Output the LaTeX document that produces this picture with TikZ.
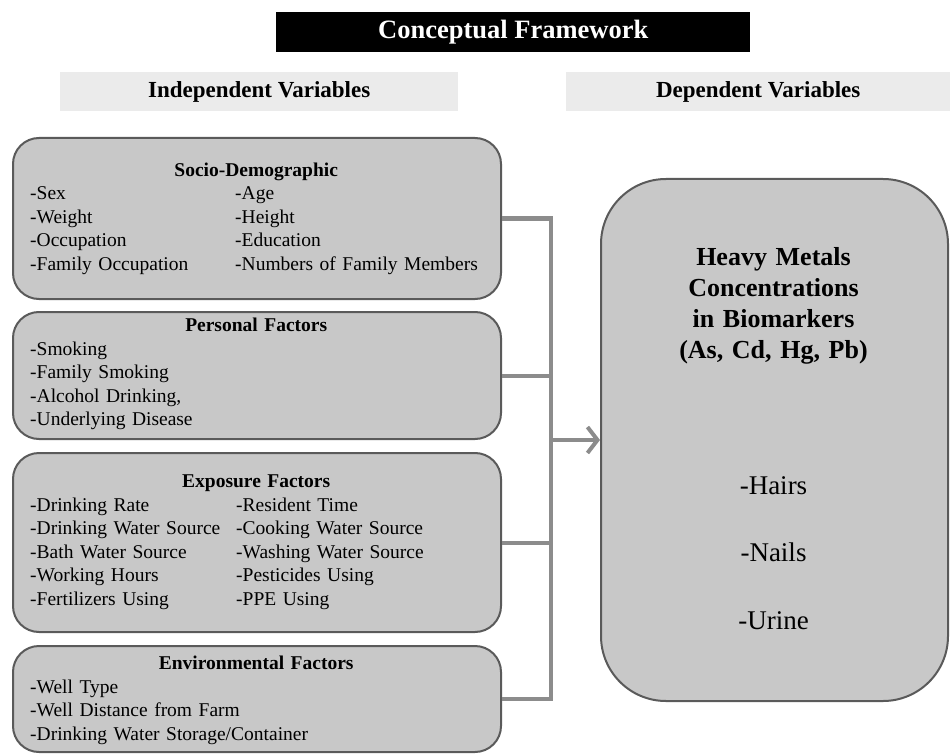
\documentclass[tikz,border=0pt]{standalone}
\usepackage{fontspec}
\setmainfont{Liberation Serif}
\usetikzlibrary{arrows.meta}

\definecolor{boxfill}{HTML}{C8C8C8}
\definecolor{boxline}{HTML}{5A5A5A}
\definecolor{headfill}{HTML}{EBEBEB}
\definecolor{linkgray}{HTML}{8C8C8C}

\begin{document}
\begin{tikzpicture}[x=1pt,y=-1pt,
  factorbox/.style={draw=boxline, line width=2pt, fill=boxfill,
    rounded corners=26pt, minimum width=488pt, inner sep=0pt, anchor=north west},
  headbox/.style={fill=headfill, minimum height=39pt, inner sep=0pt, anchor=north west,
    font=\bfseries\fontsize{23}{27}\selectfont},
  itemtext/.style={inner sep=0pt, anchor=base west, align=left, text width=460pt,
    font=\fontsize{19.5}{23.5}\selectfont},
  outtext/.style={inner sep=0pt, anchor=base, align=center, text width=340pt},
  link/.style={draw=linkgray, line width=4pt},
]
\useasboundingbox[fill=white] (0,0) rectangle (950,754);

% title and column headers
\node[fill=black, text=white, minimum width=474pt, minimum height=40pt, inner sep=0pt,
  anchor=north west, font=\bfseries\fontsize{26.5}{30}\selectfont] (title) at (276,12)
  {Conceptual Framework};
\node[headbox, minimum width=398pt] (indep) at (60,72) {Independent Variables};
\node[headbox, minimum width=384pt] (dep) at (566,72) {Dependent Variables};

% groups of independent variables
\node[factorbox, minimum height=161pt] (socio) at (12,137) {};
\node[factorbox, minimum height=127pt] (personal) at (12,311) {};
\node[factorbox, minimum height=179pt] (expo) at (12,452) {};
\node[factorbox, minimum height=106pt] (env) at (12,645) {};

\node[itemtext] (socioText) at (30,176.5) {%
  \makebox[452pt]{\bfseries Socio-Demographic}\\
  \makebox[205pt][l]{-Sex}-Age\\
  \makebox[205pt][l]{-Weight}-Height\\
  \makebox[205pt][l]{-Occupation}-Education\\
  \makebox[205pt][l]{-Family Occupation}-Numbers of Family Members};

\node[itemtext] (personalText) at (30,331.5) {%
  \makebox[452pt]{\bfseries Personal Factors}\\
  -Smoking\\
  -Family Smoking\\
  -Alcohol Drinking,\\
  -Underlying Disease};

\node[itemtext] (expoText) at (30,487.5) {%
  \makebox[452pt]{\bfseries Exposure Factors}\\
  \makebox[206pt][l]{-Drinking Rate}-Resident Time\\
  \makebox[206pt][l]{-Drinking Water Source}-Cooking Water Source\\
  \makebox[206pt][l]{-Bath Water Source}-Washing Water Source\\
  \makebox[206pt][l]{-Working Hours}-Pesticides Using\\
  \makebox[206pt][l]{-Fertilizers Using}-PPE Using};

\node[itemtext] (envText) at (30,669.5) {%
  \makebox[452pt]{\bfseries Environmental Factors}\\
  -Well Type\\
  -Well Distance from Farm\\
  -Drinking Water Storage/Container};

% dependent variable
\node[draw=boxline, line width=2pt, fill=boxfill, rounded corners=65pt,
  minimum width=347pt, minimum height=522pt, inner sep=0pt, anchor=north west]
  (outcome) at (600,178) {};
\node[outtext, font=\bfseries\fontsize{26}{31}\selectfont] (outcomeHead) at (773.5,265.5)
  {Heavy Metals\\Concentrations\\in Biomarkers\\(As, Cd, Hg, Pb)};
\node[outtext, font=\fontsize{27}{67.5}\selectfont] (outcomeList) at (773.5,494)
  {-Hairs\\-Nails\\-Urine};

% bus that collects the four groups and feeds the outcome
\coordinate (bus) at (551,0);
\draw[link] (socio.east) -- (socio.east -| bus) -- (env.east -| bus) -- (env.east);
\draw[link] (personal.east) -- (personal.east -| bus);
\draw[link] (expo.east) -- (expo.east -| bus);
\draw[link, -{Straight Barb[length=10pt, width=26pt]}]
  (outcome.west -| bus) -- (outcome.west);
\end{tikzpicture}
\end{document}
